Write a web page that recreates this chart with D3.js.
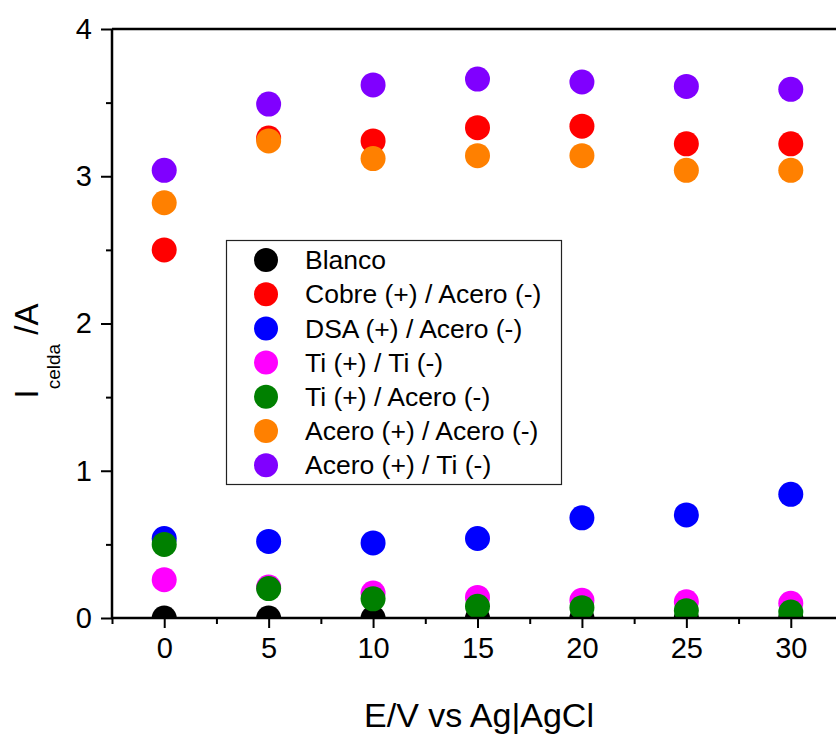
<!DOCTYPE html>
<html>
<head>
<meta charset="utf-8">
<script src="https://cdn.jsdelivr.net/npm/d3@7"></script>
<style>
  body { margin: 0; background: #fff; }
  svg { display: block; font-family: Arial, "Liberation Sans", sans-serif; }
</style>
</head>
<body>
<svg id="chart" width="836" height="734"></svg>
<script>
// potential (V) at which each cell current was measured
const potentials = [0, 5, 10, 15, 20, 25, 30];

const seriesNames = [
    "Blanco",
    "Cobre (+) / Acero (-)",
    "DSA (+) / Acero (-)",
    "Ti (+) / Ti (-)",
    "Ti (+) / Acero (-)",
    "Acero (+) / Acero (-)",
    "Acero (+) / Ti (-)"
];
const seriesColors = ["#000000", "#ff0000", "#0000ff", "#ff00ff", "#008000", "#ff8000", "#8000ff"];

// I celda (A), one array per series, same order as seriesNames
const blanco      = [0.00, 0.00, 0.00, 0.00, 0.00, 0.00, 0.00];
const cobreAcero  = [2.50, 3.26, 3.24, 3.33, 3.34, 3.22, 3.22];
const dsaAcero    = [0.54, 0.52, 0.51, 0.54, 0.68, 0.70, 0.84];
const tiTi        = [0.26, 0.21, 0.17, 0.14, 0.12, 0.11, 0.10];
const tiAcero     = [0.50, 0.20, 0.13, 0.08, 0.07, 0.05, 0.04];
const aceroAcero  = [2.82, 3.24, 3.12, 3.14, 3.14, 3.04, 3.04];
const aceroTi     = [3.04, 3.49, 3.62, 3.66, 3.64, 3.61, 3.59];

const seriesValues = [blanco, cobreAcero, dsaAcero, tiTi, tiAcero, aceroAcero, aceroTi];

const xTicks = [0, 5, 10, 15, 20, 25, 30];
const xMinorTicks = [-2.5, 2.5, 7.5, 12.5, 17.5, 22.5, 27.5];
const yTicks = [0, 1, 2, 3, 4];
const yMinorTicks = [0.5, 1.5, 2.5, 3.5];

const svg = d3.select("#chart");
const plotLeft = 112, plotRight = 843, plotTop = 29, plotBottom = 618;

const x = d3.scaleLinear().domain([-2.5, 32.5]).range([plotLeft, plotRight]);
const y = d3.scaleLinear().domain([0, 4]).range([plotBottom, plotTop]);

svg.append("clipPath")
    .attr("id", "plot-clip")
    .append("rect")
    .attr("x", plotLeft)
    .attr("y", plotTop)
    .attr("width", plotRight - plotLeft)
    .attr("height", plotBottom - plotTop);

// points, drawn in legend order so later series sit on top
const points = svg.append("g").attr("clip-path", "url(#plot-clip)");
seriesValues.forEach(function (vals, i) {
    points.selectAll(null)
        .data(vals)
        .enter()
        .append("circle")
        .attr("cx", (d, j) => x(potentials[j]))
        .attr("cy", (d) => y(d))
        .attr("r", 12.5)
        .style("fill", seriesColors[i]);
});

// axes
const xAxis = svg.append("g")
    .attr("transform", `translate(0,${plotBottom})`)
    .call(d3.axisBottom(x).tickValues(xTicks).tickSize(10).tickPadding(9).tickFormat(d3.format("d")));
svg.append("g")
    .attr("transform", `translate(0,${plotBottom})`)
    .call(d3.axisBottom(x).tickValues(xMinorTicks).tickSize(6).tickFormat(""));

const yAxis = svg.append("g")
    .attr("transform", `translate(${plotLeft},0)`)
    .call(d3.axisLeft(y).tickValues(yTicks).tickSize(11).tickPadding(9).tickFormat(d3.format("d")));
svg.append("g")
    .attr("transform", `translate(${plotLeft},0)`)
    .call(d3.axisLeft(y).tickValues(yMinorTicks).tickSize(6).tickFormat(""));

svg.selectAll(".domain").remove();
svg.selectAll(".tick line").style("stroke", "#000").style("stroke-width", 2);
xAxis.selectAll("text").style("font-size", "29px").style("fill", "#000");
yAxis.selectAll("text").style("font-size", "29px").style("fill", "#000");

// frame lines (bottom, left, top)
svg.append("line").attr("x1", plotLeft - 1).attr("x2", plotRight).attr("y1", plotBottom).attr("y2", plotBottom)
    .style("stroke", "#000").style("stroke-width", 2.5);
svg.append("line").attr("x1", plotLeft).attr("x2", plotLeft).attr("y1", plotTop).attr("y2", plotBottom + 1)
    .style("stroke", "#000").style("stroke-width", 2.5);
svg.append("line").attr("x1", plotLeft).attr("x2", plotRight).attr("y1", plotTop).attr("y2", plotTop)
    .style("stroke", "#000").style("stroke-width", 2.5);

// axis titles
svg.append("text")
    .attr("x", 479)
    .attr("y", 727)
    .attr("text-anchor", "middle")
    .style("font-size", "34px")
    .text("E/V vs Ag|AgCl");

const yTitle = svg.append("text")
    .attr("transform", "translate(38,351) rotate(-90)")
    .attr("text-anchor", "middle")
    .style("font-size", "33px");
yTitle.append("tspan").text("I");
yTitle.append("tspan").attr("dy", 22).style("font-size", "19px").text("celda");
yTitle.append("tspan").attr("dy", -22).text(" /A");

// legend
const legend = svg.append("g");
legend.append("rect")
    .attr("x", 226.5)
    .attr("y", 240.5)
    .attr("width", 335)
    .attr("height", 244)
    .style("fill", "#fff")
    .style("stroke", "#222")
    .style("stroke-width", 1.2);

const rows = legend.selectAll("g.row")
    .data(seriesNames)
    .enter()
    .append("g")
    .attr("class", "row")
    .attr("transform", (d, i) => `translate(0,${260 + i * 34.2})`);
rows.append("circle")
    .attr("cx", 266)
    .attr("cy", 0)
    .attr("r", 12)
    .style("fill", (d, i) => seriesColors[i]);
rows.append("text")
    .attr("x", 305)
    .attr("y", 0)
    .attr("dy", "0.35em")
    .style("font-size", "26.5px")
    .text((d) => d);
</script>
</body>
</html>
